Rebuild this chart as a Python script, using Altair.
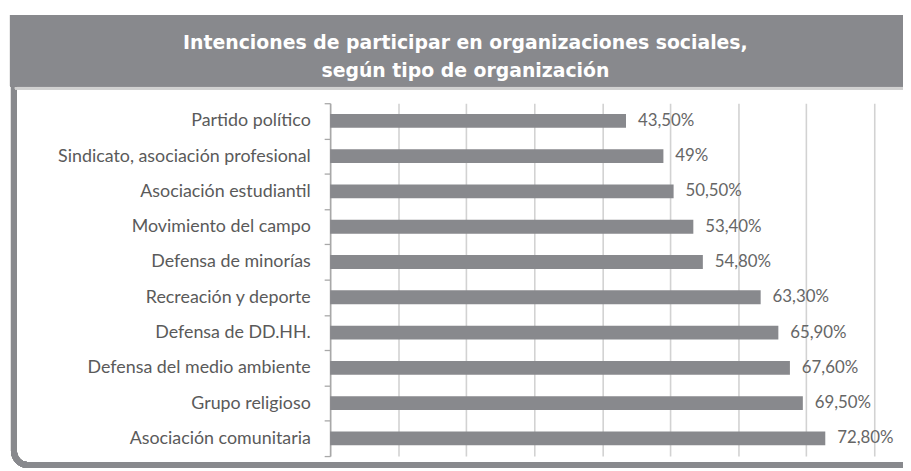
import altair as alt
import pandas as pd

categories = [
    "Partido político",
    "Sindicato, asociación profesional",
    "Asociación estudiantil",
    "Movimiento del campo",
    "Defensa de minorías",
    "Recreación y deporte",
    "Defensa de DD.HH.",
    "Defensa del medio ambiente",
    "Grupo religioso",
    "Asociación comunitaria",
]
values = [43.5, 49, 50.5, 53.4, 54.8, 63.3, 65.9, 67.6, 69.5, 72.8]
value_labels = ["43,50%", "49%", "50,50%", "53,40%", "54,80%",
                "63,30%", "65,90%", "67,60%", "69,50%", "72,80%"]
title_lines = ["Intenciones de participar en organizaciones sociales,",
               "según tipo de organización"]
grid_ticks = [0, 10, 20, 30, 40, 50, 60, 70, 80]

df = pd.DataFrame({"cat": categories, "val": values, "lab": value_labels})

GRAY = "#88898d"
W, H = 549, 356

x_enc = alt.X("val:Q",
              scale=alt.Scale(domain=[0, 80], nice=False),
              axis=alt.Axis(values=grid_ticks, labels=False, ticks=False, domain=False,
                            grid=True, gridColor="#d2d2d2", gridWidth=1.6, title=None))
y_enc = alt.Y("cat:N", sort=None,
              scale=alt.Scale(paddingInner=0, paddingOuter=0),
              axis=alt.Axis(title=None, tickBand="extent", tickSize=6, tickColor="#a8a8a8",
                            domainColor="#a8a8a8", domainWidth=1.5, tickWidth=1.3,
                            labelFont="Lato", labelFontSize=18, labelColor="#5a5a5a",
                            labelPadding=14, labelLimit=400))

base = alt.Chart(df)

frame = base.mark_rect(fillOpacity=0, stroke=GRAY, strokeWidth=6, cornerRadius=14).encode(
    x=alt.value(-319), x2=alt.value(700), y=alt.value(-40), y2=alt.value(365))
header = base.mark_rect(color=GRAY).encode(
    x=alt.value(-323), x2=alt.value(600), y=alt.value(-89), y2=alt.value(-17))
shade = base.mark_rule(color="#d0d0d0", strokeWidth=2).encode(
    x=alt.value(-318), x2=alt.value(600), y=alt.value(-15))

bars = base.mark_bar(color=GRAY, size=14).encode(x=x_enc, y=y_enc)
text = base.mark_text(align="left", baseline="middle", dx=12, font="Lato",
                      fontSize=17, color="#666666").encode(
    x="val:Q", y=alt.Y("cat:N", sort=None), text="lab:N")

chart = alt.layer(frame, header, shade, bars, text).properties(
    width=W, height=H,
    autosize=alt.AutoSizeParams(type="none"),
    padding={"left": 325, "top": 94, "right": 29, "bottom": 13},
    title=alt.Title(text=title_lines, color="white", font="DejaVu Sans", fontSize=19,
                    fontWeight="bold", lineHeight=29, anchor="middle", frame="group",
                    baseline="alphabetic", dx=-138, dy=82, offset=0),
).configure_view(strokeWidth=0)

chart.save("out.html", embed_options={"renderer": "svg", "actions": False})
